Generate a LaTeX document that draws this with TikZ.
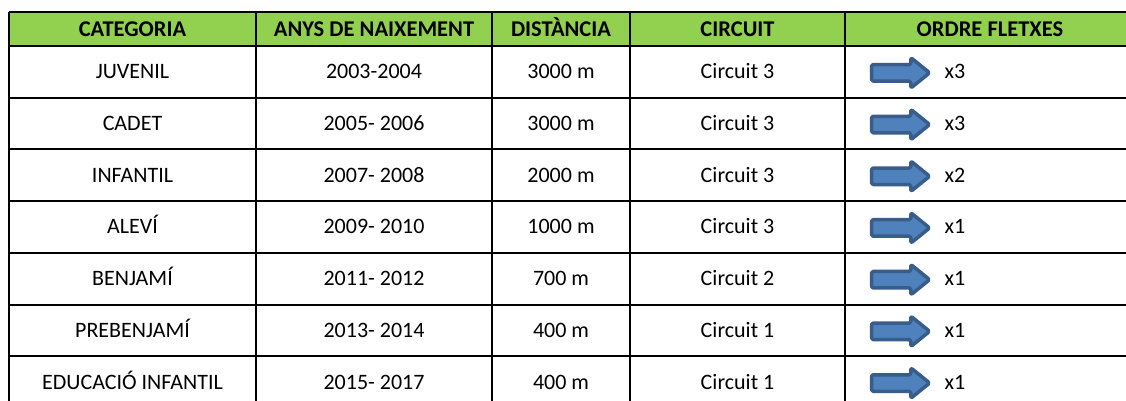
\documentclass[tikz,border=0pt]{standalone}
\usepackage{fontspec}
\setmainfont{Carlito}
\usetikzlibrary{shapes.arrows}

\definecolor{headgreen}{HTML}{92D050}
\definecolor{arrowblue}{HTML}{4F81BD}
\definecolor{arrowline}{HTML}{385D8A}

\tikzset{
  cell/.style={inner sep=0pt, text height=14pt, text depth=0pt, font=\fontsize{22}{26}\selectfont},
  headcell/.style={cell, font=\fontsize{22.5}{26}\selectfont\bfseries},
  fletxa/.style={single arrow, draw=arrowline, fill=arrowblue, line width=3.5pt,
    line join=round, rounded corners=1.5pt,
    inner xsep=0pt, inner ysep=6.5pt, minimum height=58pt, minimum width=27pt,
    single arrow head extend=7pt, single arrow tip angle=78},
  rule/.style={black, line width=2pt}
}

\begin{document}
\begin{tikzpicture}[x=1pt,y=-1pt]
                \pgfmathsetmacro{\top}{12}
                \pgfmathsetmacro{\hb}{46}
                \pgfmathsetmacro{\rh}{51.7}

                \clip (0,0) rectangle (1126,401);
                \fill[white] (0,0) rectangle (1126,401);
		\fill[headgreen] (9,\top) rectangle (1135,\hb);

		% header
		\node[headcell] (hcat) at (132.5,29.5) {CATEGORIA};
		\node[headcell] (hanys) at (374,29.5) {ANYS DE NAIXEMENT};
		\node[headcell] (hdist) at (561,29.5) {DISTÀNCIA};
		\node[headcell] (hcirc) at (737.5,29.5) {CIRCUIT};
		\node[headcell] (hordre) at (990,29.5) {ORDRE FLETXES};

		% rows
		\foreach \cat/\anys/\dist/\cir/\ordre [count=\i] in {
		    JUVENIL/2003-2004/3000 m/Circuit 3/x3,
		    CADET/2005- 2006/3000 m/Circuit 3/x3,
		    INFANTIL/2007- 2008/2000 m/Circuit 3/x2,
		    ALEVÍ/2009- 2010/1000 m/Circuit 3/x1,
		    BENJAMÍ/2011- 2012/700 m/Circuit 2/x1,
		    PREBENJAMÍ/2013- 2014/400 m/Circuit 1/x1,
		    EDUCACIÓ INFANTIL/2015- 2017/400 m/Circuit 1/x1} {
		    \pgfmathsetmacro{\yc}{\hb+\rh*(\i-0.5)}
		    \node[cell] (cat\i) at (132.5,\yc) {\cat};
		    \node[cell] (anys\i) at (374,\yc) {\anys};
		    \node[cell] (dist\i) at (561,\yc) {\dist};
		    \node[cell] (circ\i) at (737.5,\yc) {\cir};
		    \node[fletxa] (fletxa\i) at (895.5,\yc+1) {};
		    \node[cell] (ordre\i) at (955,\yc) {\ordre};
		    \draw[rule] (9,\hb+\rh*\i) -- (1135,\hb+\rh*\i);
		}

		% grid lines
		\draw[rule] (9,\top) -- (1135,\top);
		\draw[rule] (9,\hb) -- (1135,\hb);
		\foreach \x in {9,256,492,630,845,1135}
		    \draw[rule] (\x,\top) -- (\x,410);

        \end{tikzpicture}
\end{document}
